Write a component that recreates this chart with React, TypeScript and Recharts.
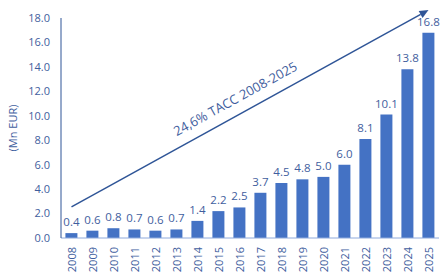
import React from "react";
import {
  BarChart,
  Bar,
  XAxis,
  YAxis,
  LabelList,
  ReferenceLine,
} from "recharts";

const years = [
  "2008", "2009", "2010", "2011", "2012", "2013", "2014", "2015", "2016",
  "2017", "2018", "2019", "2020", "2021", "2022", "2023", "2024", "2025",
];
const revenue = [
  0.4, 0.6, 0.8, 0.7, 0.6, 0.7, 1.4, 2.2, 2.5, 3.7, 4.5, 4.8, 5.0, 6.0, 8.1,
  10.1, 13.8, 16.8,
];
const yTicks = [0, 2, 4, 6, 8, 10, 12, 14, 16, 18];
const trendLabel = "24,6% TACC 2008-2025";
const trendStart = { x: "2008", y: 2.54 };
const trendEnd = { x: "2025", y: 18.65 };

const FONT = "'Open Sans', sans-serif";
const TEXT = "#3F5E9E";
const DARK = "#2F5597";

const data = years.map((year, i) => ({ year, value: revenue[i] }));

const YearTick = (props: any) => {
  const { x, y, payload } = props;
  const ty = y + 1;
  return (
    <text
      x={x}
      y={ty}
      transform={`rotate(-90, ${x}, ${ty})`}
      textAnchor="end"
      dominantBaseline="central"
      fill={TEXT}
      fontSize={11}
      fontFamily={FONT}
    >
      {payload.value}
    </text>
  );
};

// trend arrow with rotated caption
const TrendArrow = (props: any) => {
  const { x1, y1, x2, y2 } = props;
  const dx = x2 - x1;
  const dy = y2 - y1;
  const len = Math.sqrt(dx * dx + dy * dy);
  const ux = dx / len;
  const uy = dy / len;
  const nx = uy;
  const ny = -ux;
  const head = 9;
  const hw = 4;
  const bx = x2 - ux * head;
  const by = y2 - uy * head;
  const t = 0.48;
  const cx = x1 + dx * t + nx * 16;
  const cy = y1 + dy * t + ny * 16;
  const angle = (Math.atan2(dy, dx) * 180) / Math.PI;
  return (
    <g>
      <line x1={x1} y1={y1} x2={bx} y2={by} stroke={DARK} strokeWidth={1.5} />
      <polygon
        points={`${x2},${y2} ${bx + nx * hw},${by + ny * hw} ${bx - nx * hw},${by - ny * hw}`}
        fill={DARK}
      />
      <text
        x={cx}
        y={cy}
        transform={`rotate(${angle}, ${cx}, ${cy})`}
        textAnchor="middle"
        dominantBaseline="central"
        fill={TEXT}
        fontSize={13}
        fontFamily={FONT}
      >
        {trendLabel}
      </text>
    </g>
  );
};

export default function App() {
  return (
    <div style={{ position: "fixed", top: 0, left: 0, background: "#fff" }}>
      <BarChart
        width={440}
        height={272}
        data={data}
        margin={{ top: 18, right: 1, left: 0, bottom: 0 }}
        barCategoryGap="21%"
      >
        <XAxis
          dataKey="year"
          interval={0}
          height={34}
          tickLine={false}
          axisLine={{ stroke: "#8FAADC" }}
          tick={<YearTick />}
        />
        <YAxis
          width={61}
          domain={[0, 18]}
          ticks={yTicks}
          tickFormatter={(v: number) => v.toFixed(1)}
          tickLine={false}
          tickSize={0}
          tickMargin={11}
          axisLine={{ stroke: DARK }}
          tick={{ fill: TEXT, fontSize: 11, fontFamily: FONT }}
          label={{
            value: "(Mn EUR)",
            angle: -90,
            position: "insideLeft",
            dx: 8,
            fill: TEXT,
            fontSize: 11,
            fontFamily: FONT,
            style: { textAnchor: "middle" },
          }}
        />
        <Bar dataKey="value" fill="#4472C4" isAnimationActive={false}>
          <LabelList
            dataKey="value"
            position="top"
            offset={7}
            fill={TEXT}
            fontSize={11.5}
            fontFamily={FONT}
            formatter={(v: any) => Number(v).toFixed(1)}
          />
        </Bar>
        <ReferenceLine
          segment={[trendStart, trendEnd]}
          ifOverflow="visible"
          shape={<TrendArrow />}
        />
      </BarChart>
    </div>
  );
}
